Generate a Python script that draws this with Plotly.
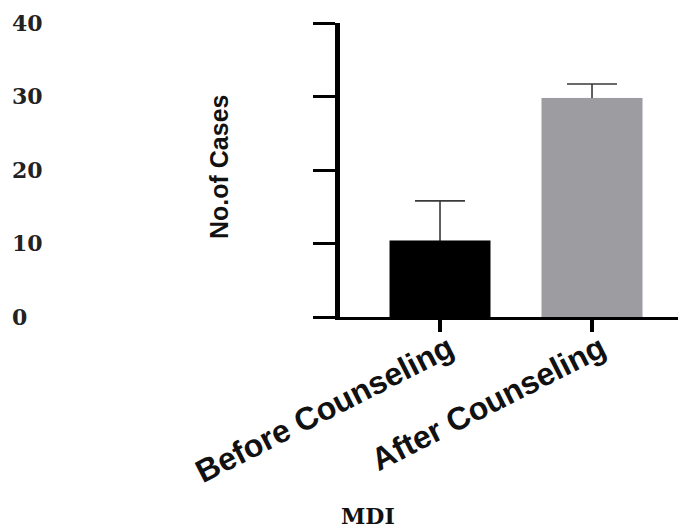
import plotly.graph_objects as go

categories = ["Before Counseling", "After Counseling"]
values = [10.4, 29.8]
errors_up = [5.4, 1.9]
bar_colors = ["#000000", "#9d9da1"]
y_ticks = [0, 10, 20, 30, 40]
y_tick_labels = ["0", "10", "20", "30", "40"]

W, H = 686, 531
# the page body adds an 8px offset; positions below are in figure pixels
top_px, bottom_px = 15, 309
ml, mr, mt, mb = 0, 0, top_px, H - bottom_px
axis_x_px = 332
x_dom0 = axis_x_px / W
plot_h = bottom_px - top_px

fig = go.Figure()

# error bar carrier, drawn underneath the visible bars: the lower half of each
# whisker (down to the baseline) stays hidden behind its bar, so only the
# upward error shows
fig.add_trace(go.Bar(
    x=[0, 1], y=values, width=0.664,
    marker=dict(color="rgba(0,0,0,0)"),
    error_y=dict(type="data", array=errors_up, arrayminus=values, symmetric=False,
                 color="#3a3a3a", thickness=1.6, width=25),
    showlegend=False, hoverinfo="skip",
))
fig.add_trace(go.Bar(
    x=[0, 1], y=values, width=0.664,
    marker=dict(color=bar_colors, line=dict(width=0)),
    showlegend=False,
))
# carrier for the detached tick-label axis
fig.add_trace(go.Scatter(x=[None], y=[None], yaxis="y2", showlegend=False, hoverinfo="skip"))

fig.update_layout(
    width=W, height=H,
    margin=dict(l=ml, r=mr, t=mt, b=mb, autoexpand=False),
    paper_bgcolor="white", plot_bgcolor="white",
    barmode="overlay",
    showlegend=False,
    xaxis=dict(
        domain=[x_dom0, 1],
        range=[-0.658, 1.671],
        tickvals=[0, 1], ticktext=categories,
        tickangle=-27,
        tickfont=dict(family="Liberation Sans, Arial, sans-serif", size=32, color="#111", weight="bold"),
        ticks="outside", ticklen=12, tickwidth=4, tickcolor="#000",
        ticklabelstandoff=-14, ticklabelshift=9,
        showline=True, linewidth=2.5, linecolor="#000",
        showgrid=False, zeroline=False, automargin=False,
    ),
    yaxis=dict(
        range=[0, 40],
        tickvals=y_ticks,
        showticklabels=False,
        ticks="outside", ticklen=22, tickwidth=3, tickcolor="#000",
        showline=True, linewidth=5, linecolor="#000",
        showgrid=False, zeroline=False, automargin=False,
    ),
    yaxis2=dict(
        overlaying="y", anchor="free", position=0, side="right",
        range=[0, 40],
        tickvals=y_ticks, ticktext=y_tick_labels,
        tickfont=dict(family="DejaVu Serif, serif", size=22, color="#222", weight="bold"),
        ticks="", showline=False, showgrid=False, zeroline=False,
        ticklabelstandoff=3, automargin=False,
    ),
    annotations=[
        dict(text="<b>No.of Cases</b>", textangle=-90,
             x=211 / W, y=(bottom_px - 159) / plot_h, xref="paper", yref="paper",
             xanchor="center", yanchor="middle", showarrow=False,
             font=dict(family="Liberation Sans, Arial, sans-serif",
                       size=25, color="#111")),
        dict(text="<b>MDI</b>",
             x=360 / W, y=(bottom_px - 508) / plot_h, xref="paper", yref="paper",
             xanchor="center", yanchor="middle", showarrow=False,
             font=dict(family="DejaVu Serif, serif", size=22, color="#111")),
    ],
)

fig.write_html("out.html")
